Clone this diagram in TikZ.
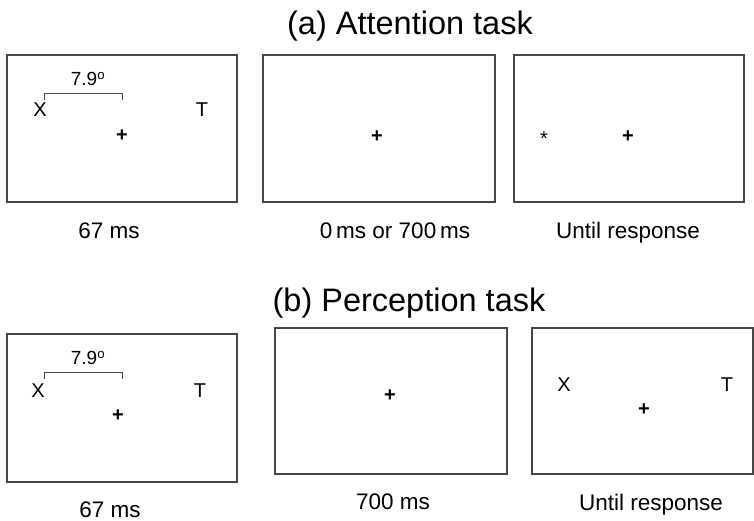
\documentclass[tikz,border=0pt]{standalone}
\usepackage{fontspec}
\setmainfont{Liberation Sans}
\usepackage{xcolor}
\definecolor{framegray}{RGB}{70,70,70}
\usepackage{tikz}
\newcommand{\widthscreen}{230pt}
\newcommand{\heightscreen}{147pt}
\tikzset{
    common/.style={inner sep=0pt, outer sep=0pt},
    screen/.style={common, draw=framegray, line width=1.3pt, rectangle, minimum width=\widthscreen, minimum height=\heightscreen},
    stim/.style={common, font=\fontsize{20}{20}\selectfont},
    fix/.style={common, font=\fontsize{20}{20}\selectfont\bfseries},
    angle/.style={common, font=\fontsize{19}{19}\selectfont},
    duration/.style={common, anchor=base, font=\fontsize{22.5}{22.5}\selectfont},
    heading/.style={common, anchor=base, font=\fontsize{32.5}{32.5}\selectfont},
    bracket/.style={draw=framegray, line width=1pt}
}
\begin{document}
\begin{tikzpicture}[x=1pt, y=-1pt]
      \useasboundingbox (0,0) rectangle (754,521);

      % (a) attention task
      \path
          (410,35) node[heading] (a-title) {(a) Attention task}
          (122,128.5) node[screen] (a-cue) {}
          +(-82,-18.5) node[stim] (a-x) {X}
          +(80,-18.5) node[stim] (a-t) {T}
          +(0,7.5) node[fix] (a-cue-fix) {+}
          +(-34,-49.5) node[angle] (a-deg) {7.9\textsuperscript{o}}
          +(-78,-28.5) coordinate (a-br-left)
          +(0,-28.5) coordinate (a-br-right)
          (379,128.5) node[screen, minimum width=232pt] (a-delay) {}
          +(-2,8.5) node[fix] (a-delay-fix) {+}
          (629,128.5) node[screen] (a-probe) {}
          +(-85,10.5) node[stim] (a-star) {*}
          +(-1,8.5) node[fix] (a-probe-fix) {+};

      \draw[bracket] (a-br-left) -- ++(0,-6) -| (a-br-right);

      \path
          (109,238) node[duration] (a-cue-time) {67 ms}
          (395,238) node[duration] (a-delay-time) {0\,ms or 700\,ms}
          (628,238) node[duration] (a-probe-time) {Until response};

      % (b) perception task
      \path
          (409,311) node[heading] (b-title) {(b) Perception task}
          (122,408) node[screen, minimum height=148pt] (b-cue) {}
          +(-84,-17) node[stim] (b-x) {X}
          +(78,-17) node[stim] (b-t) {T}
          +(-4,8) node[fix] (b-cue-fix) {+}
          +(-34,-50) node[angle] (b-deg) {7.9\textsuperscript{o}}
          +(-78,-29) coordinate (b-br-left)
          +(0,-29) coordinate (b-br-right)
          (391,401) node[screen, minimum width=232pt, minimum height=146pt] (b-delay) {}
          +(-1,-5) node[fix] (b-delay-fix) {+}
          (642.5,401) node[screen, minimum width=221pt, minimum height=146pt] (b-probe) {}
          +(-78.5,-16) node[stim] (b-probe-x) {X}
          +(84.5,-16) node[stim] (b-probe-t) {T}
          +(1.5,9) node[fix] (b-probe-fix) {+};

      \draw[bracket] (b-br-left) -- ++(0,-7) -| (b-br-right);

      \path
          (110,517) node[duration] (b-cue-time) {67 ms}
          (393,509) node[duration] (b-delay-time) {700 ms}
          (651,510) node[duration] (b-probe-time) {Until response};
\end{tikzpicture}
\end{document}
